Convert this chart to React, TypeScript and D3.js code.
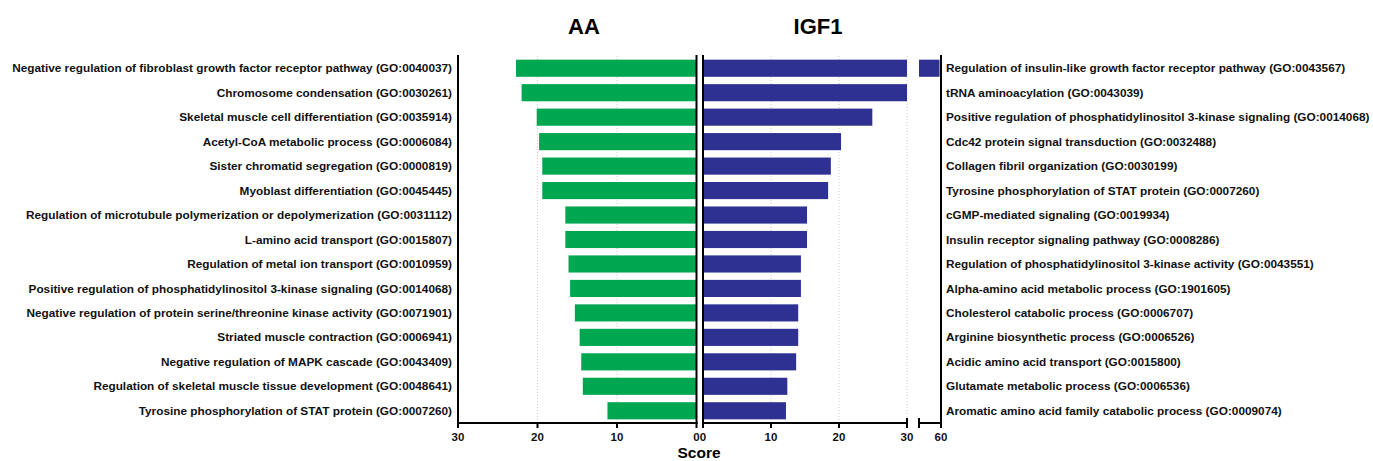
import React from "react";
import * as d3 from "d3";

const aaTerms = [
  "Negative regulation of fibroblast growth factor receptor pathway (GO:0040037)",
  "Chromosome condensation (GO:0030261)",
  "Skeletal muscle cell differentiation (GO:0035914)",
  "Acetyl-CoA metabolic process (GO:0006084)",
  "Sister chromatid segregation (GO:0000819)",
  "Myoblast differentiation (GO:0045445)",
  "Regulation of microtubule polymerization or depolymerization (GO:0031112)",
  "L-amino acid transport (GO:0015807)",
  "Regulation of metal ion transport (GO:0010959)",
  "Positive regulation of phosphatidylinositol 3-kinase signaling (GO:0014068)",
  "Negative regulation of protein serine/threonine kinase activity (GO:0071901)",
  "Striated muscle contraction (GO:0006941)",
  "Negative regulation of MAPK cascade (GO:0043409)",
  "Regulation of skeletal muscle tissue development (GO:0048641)",
  "Tyrosine phosphorylation of STAT protein (GO:0007260)",
];
const aaScores = [22.7, 22.0, 20.1, 19.8, 19.4, 19.4, 16.5, 16.5, 16.1, 15.9, 15.3, 14.7, 14.5, 14.3, 11.2];

const igfTerms = [
  "Regulation of insulin-like growth factor receptor pathway (GO:0043567)",
  "tRNA aminoacylation (GO:0043039)",
  "Positive regulation of phosphatidylinositol 3-kinase signaling (GO:0014068)",
  "Cdc42 protein signal transduction (GO:0032488)",
  "Collagen fibril organization (GO:0030199)",
  "Tyrosine phosphorylation of STAT protein (GO:0007260)",
  "cGMP-mediated signaling (GO:0019934)",
  "Insulin receptor signaling pathway (GO:0008286)",
  "Regulation of phosphatidylinositol 3-kinase activity (GO:0043551)",
  "Alpha-amino acid metabolic process (GO:1901605)",
  "Cholesterol catabolic process (GO:0006707)",
  "Arginine biosynthetic process (GO:0006526)",
  "Acidic amino acid transport (GO:0015800)",
  "Glutamate metabolic process (GO:0006536)",
  "Aromatic amino acid family catabolic process (GO:0009074)",
];
const igfScores = [59.8, 30.1, 24.9, 20.3, 18.8, 18.4, 15.3, 15.3, 14.4, 14.4, 14.0, 14.0, 13.7, 12.4, 12.2];

const leftTicks = [30, 20, 10, 0];
const rightTicks = [0, 10, 20, 30];
const breakTicks = [60];

const W = 1373;
const H = 461;
const top = 56;
const axisY = 423;
const font = "'Liberation Sans', Arial, sans-serif";
const green = "#00A650";
const blue = "#2E3192";

export default function App() {
  const rows = d3.range(aaTerms.length);
  const y = d3.scaleBand<number>().domain(rows).range([top, axisY]).paddingInner(0.3).paddingOuter(0.15);
  const xL = d3.scaleLinear().domain([30, 0]).range([458, 696.5]);
  const xR = d3.scaleLinear().domain([0, 30]).range([703, 907]);
  // second segment of the broken axis
  const xB = d3.scaleLinear().domain([57, 60]).range([919, 941]);
  const rowMid = (i: number) => (y(i) as number) + y.bandwidth() / 2;
  const labelText = { fontFamily: font, fontWeight: 700, fontSize: 11.8, fill: "#111" } as const;
  const tickText = { fontFamily: font, fontWeight: 700, fontSize: 11.5, fill: "#111" } as const;

  return (
    <svg width={W} height={H} style={{ position: "absolute", left: 0, top: 0, background: "#fff" }}>
      {/* titles */}
      <text x={584} y={34} textAnchor="middle" fontFamily={font} fontWeight={700} fontSize={22}>AA</text>
      <text x={818} y={34} textAnchor="middle" fontFamily={font} fontWeight={700} fontSize={22}>IGF1</text>

      {/* grid */}
      {[20, 10].map((t) => (
        <line key={"gl" + t} x1={xL(t)} x2={xL(t)} y1={top} y2={axisY} stroke="#ccc" strokeDasharray="1,2" />
      ))}
      {[10, 20, 30].map((t) => (
        <line key={"gr" + t} x1={xR(t)} x2={xR(t)} y1={top} y2={axisY} stroke="#ccc" strokeDasharray="1,2" />
      ))}

      {/* AA bars */}
      {aaScores.map((v, i) => (
        <rect key={"a" + i} x={xL(v)} y={y(i)} width={xL(0) - xL(v)} height={y.bandwidth()} fill={green} />
      ))}
      {/* IGF1 bars, broken axis */}
      {igfScores.map((v, i) => (
        <g key={"b" + i}>
          <rect x={xR(0)} y={y(i)} width={xR(Math.min(v, 30)) - xR(0)} height={y.bandwidth()} fill={blue} />
          {v > xB.domain()[0] && (
            <rect x={xB.range()[0]} y={y(i)} width={xB(v) - xB.range()[0]} height={y.bandwidth()} fill={blue} />
          )}
        </g>
      ))}

      {/* labels */}
      {aaTerms.map((t, i) => (
        <text key={"la" + i} x={452} y={rowMid(i)} dy="0.35em" textAnchor="end" {...labelText}>{t}</text>
      ))}
      {igfTerms.map((t, i) => (
        <text key={"lb" + i} x={946} y={rowMid(i)} dy="0.35em" textAnchor="start" {...labelText}>{t}</text>
      ))}

      {/* axes */}
      <g stroke="#000" strokeWidth={2} fill="none">
        <line x1={458} x2={458} y1={top - 1} y2={axisY + 1} />
        <line x1={696.5} x2={696.5} y1={top - 1} y2={axisY + 1} />
        <line x1={703} x2={703} y1={top - 1} y2={axisY + 1} />
        <line x1={941} x2={941} y1={top - 1} y2={axisY + 1} />
        <line x1={457} x2={697.5} y1={axisY} y2={axisY} />
        <line x1={702} x2={907} y1={axisY} y2={axisY} />
        <line x1={919} x2={942} y1={axisY} y2={axisY} />
        <line x1={907} x2={907} y1={axisY - 5} y2={axisY + 5} />
        <line x1={919} x2={919} y1={axisY - 5} y2={axisY + 5} />
        {leftTicks.map((t) => (
          <line key={"tl" + t} x1={xL(t)} x2={xL(t)} y1={axisY} y2={axisY + 5} />
        ))}
        {rightTicks.map((t) => (
          <line key={"tr" + t} x1={xR(t)} x2={xR(t)} y1={axisY} y2={axisY + 5} />
        ))}
        {breakTicks.map((t) => (
          <line key={"tb" + t} x1={xB(t)} x2={xB(t)} y1={axisY} y2={axisY + 5} />
        ))}
      </g>
      {leftTicks.map((t) => (
        <text key={"xl" + t} x={xL(t)} y={441} textAnchor="middle" {...tickText}>{t}</text>
      ))}
      {rightTicks.map((t) => (
        <text key={"xr" + t} x={xR(t)} y={441} textAnchor="middle" {...tickText}>{t}</text>
      ))}
      {breakTicks.map((t) => (
        <text key={"xb" + t} x={xB(t)} y={441} textAnchor="middle" {...tickText}>{t}</text>
      ))}
      <text x={699} y={458} textAnchor="middle" fontFamily={font} fontWeight={700} fontSize={15.5}>Score</text>
    </svg>
  );
}
